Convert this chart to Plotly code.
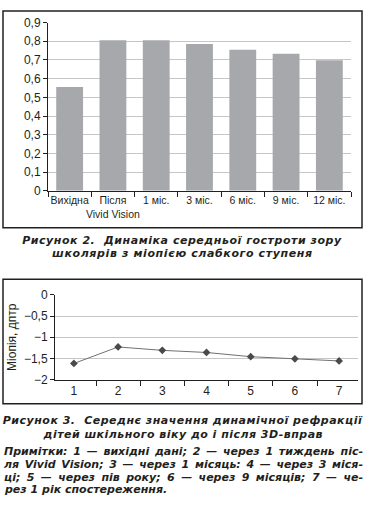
import plotly.graph_objects as go

# ---------------- data ----------------
categories1 = ["Вихідна", "Після<br>Vivid Vision", "1 міс.", "3 міс.", "6 міс.", "9 міс.", "12 міс."]
acuity = [0.555, 0.805, 0.805, 0.785, 0.755, 0.733, 0.698]
y1_tickvals = [0, 0.1, 0.2, 0.3, 0.4, 0.5, 0.6, 0.7, 0.8, 0.9]
y1_ticktext = ["0", "0,1", "0,2", "0,3", "0,4", "0,5", "0,6", "0,7", "0,8", "0,9"]

categories2 = ["1", "2", "3", "4", "5", "6", "7"]
refraction = [-1.62, -1.23, -1.31, -1.36, -1.46, -1.51, -1.56]
y2_tickvals = [0, -0.5, -1, -1.5, -2]
y2_ticktext = ["0", "\u22120,5", "\u22121", "\u22121,5", "\u22122"]

caption2 = ["Рисунок 2.  Динаміка середньої гостроти зору",
            "школярів з міопією слабкого ступеня"]
caption3 = ["Рисунок 3.  Середнє значення динамічної рефракції",
            "дітей шкільного віку до і після 3D-вправ"]
notes3 = ["Примітки: 1 — вихідні дані; 2 — через 1 тиждень піс-",
          "ля Vivid Vision; 3 — через 1 місяць: 4 — через 3 міся-",
          "ці; 5 — через пів року; 6 — через 9 місяців; 7 — че-",
          "рез 1 рік спостереження."]

W, H = 367, 513
def fx(p):
    return p / W
def fy(p):
    return 1 - p / H

INK = "#231f20"
GRID = "#c6c6c6"
BAR = "#a7a8ab"
NARROW = "Liberation Sans Narrow, Arial Narrow, Liberation Sans, Arial, sans-serif"
SANS = "Liberation Sans, Arial, sans-serif"
CAP = "DejaVu Sans, Liberation Sans, Arial, sans-serif"

fig = go.Figure()
fig.add_trace(go.Bar(x=categories1, y=acuity, marker=dict(color=BAR, line=dict(width=0)),
                     xaxis="x", yaxis="y", showlegend=False))
fig.add_trace(go.Scatter(x=categories2, y=refraction, mode="lines+markers",
                         line=dict(color="#707070", width=1),
                         marker=dict(symbol="diamond", size=6, color="#4a4a4a"),
                         xaxis="x2", yaxis="y2", showlegend=False))

axis_common = dict(showline=True, linecolor=INK, linewidth=1, ticks="outside",
                   tickcolor=INK, tickwidth=1, fixedrange=True)

fig.update_layout(
    width=W, height=H, autosize=False,
    margin=dict(l=0, r=0, t=0, b=0),
    paper_bgcolor="white", plot_bgcolor="white",
    bargap=0.38,
    xaxis=dict(domain=[fx(48), fx(351)], anchor="y", type="category",
               tickson="boundaries", ticklen=5, showgrid=False, tickangle=0,
               tickfont=dict(family=NARROW, size=10.5, color=INK), **axis_common),
    yaxis=dict(domain=[fy(189), fy(16)], anchor="x", range=[0, 0.9],
               tickvals=y1_tickvals, ticktext=y1_ticktext, ticklen=4,
               showgrid=True, gridcolor=GRID, gridwidth=1, zeroline=False,
               tickfont=dict(family=SANS, size=12, color=INK), **axis_common),
    xaxis2=dict(domain=[fx(55), fx(358)], anchor="y2", type="category",
                tickson="boundaries", ticklen=5, showgrid=False, tickangle=0,
                tickfont=dict(family=SANS, size=12, color=INK), **axis_common),
    yaxis2=dict(domain=[fy(383), fy(296)], anchor="x2", range=[-2, 0],
                tickvals=y2_tickvals, ticktext=y2_ticktext, ticklen=4,
                showgrid=True, gridcolor=GRID, gridwidth=1, zeroline=False,
                title=dict(text="Міопія, дптр", font=dict(family=SANS, size=12, color=INK), standoff=4),
                tickfont=dict(family=SANS, size=12, color=INK), **axis_common),
)

shapes = [
    dict(type="rect", xref="paper", yref="paper", x0=fx(3), x1=fx(362), y0=fy(227), y1=fy(4),
         line=dict(color=INK, width=1.5)),
    dict(type="rect", xref="paper", yref="paper", x0=fx(3), x1=fx(362), y0=fy(408), y1=fy(280),
         line=dict(color=INK, width=1.5)),
]
fig.update_layout(shapes=shapes)

annotations = []
cap_font = dict(family=CAP, size=11, color=INK)
fit_spec = []
for text, ypx, target in zip(caption2, [240, 253], [319, 260]):
    fit_spec.append((len(annotations), target, "letter"))
    annotations.append(dict(text="<b><i>" + text + "</i></b>", xref="paper", yref="paper",
                            x=fx(182.5), y=fy(ypx), xanchor="center", yanchor="middle", align="center",
                            showarrow=False, font=cap_font))
for text, ypx, target in zip(caption3, [425, 440], [359, 279]):
    fit_spec.append((len(annotations), target, "letter"))
    annotations.append(dict(text="<b><i>" + text + "</i></b>", xref="paper", yref="paper",
                            x=fx(182.5), y=fy(ypx), xanchor="center", yanchor="middle", align="center",
                            showarrow=False, font=cap_font))
for i, (text, ypx) in enumerate(zip(notes3, [456.5, 470.5, 483.5, 496.5])):
    if i < 3:
        fit_spec.append((len(annotations), 359, "word"))
    annotations.append(dict(text="<b><i>" + text + "</i></b>", xref="paper", yref="paper",
                            x=fx(2), y=fy(ypx), xanchor="left", yanchor="middle", align="left",
                            showarrow=False, font=cap_font))
fig.update_layout(annotations=annotations)

specs_js = ",".join("[%d,%d,'%s']" % s for s in fit_spec)
post = """
document.body.style.margin='0';document.body.style.overflow='hidden';
var specs=[%s];
specs.forEach(function(sp){
  var t=document.querySelector('g.annotation[data-index="'+sp[0]+'"] text');
  if(!t) return;
  var len=t.getComputedTextLength();
  var s=t.textContent;
  if(sp[2]==='word'){
    var n=(s.match(/ /g)||[]).length;
    if(n>0) t.style.wordSpacing=((sp[1]-len)/n)+'px';
  } else {
    t.style.letterSpacing=((sp[1]-len)/(s.length-1))+'px';
  }
});
""" % specs_js

fig.write_html("out.html", config={"displayModeBar": False}, post_script=post)
